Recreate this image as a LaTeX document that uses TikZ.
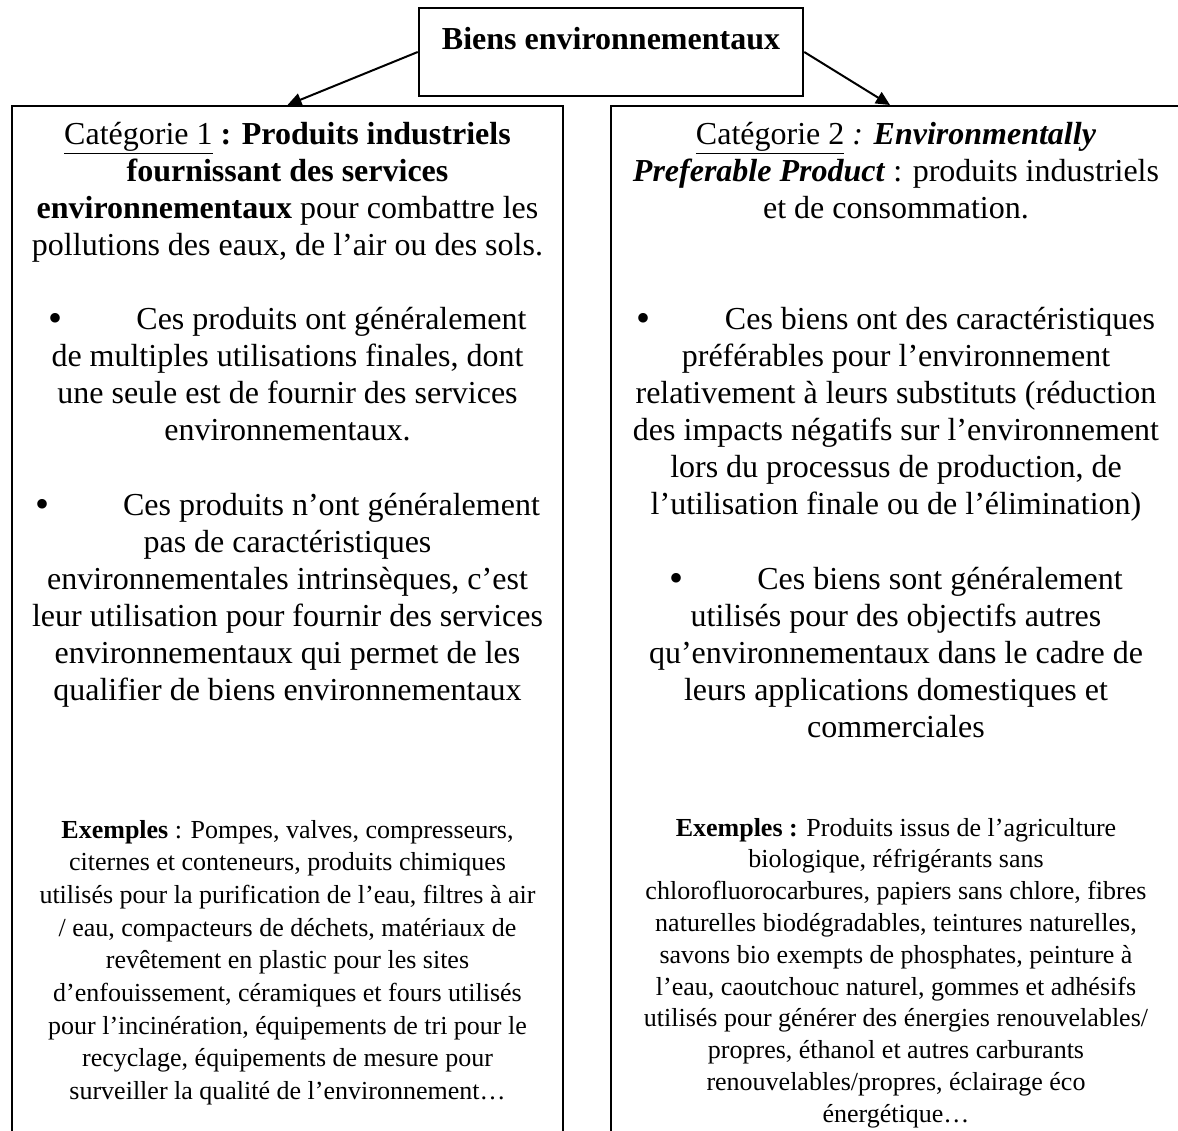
\documentclass[tikz,border=0pt]{standalone}
\usepackage{fontspec}
\setmainfont{Liberation Serif}
\usetikzlibrary{arrows.meta}
\newcommand\mybul{\raisebox{-2pt}{\fontsize{40}{37}\selectfont\textbullet}}
\begin{document}
\begin{tikzpicture}[x=1pt,y=-1pt,
  frame/.style={draw, line width=2.5pt, inner sep=0pt},
  bodytext/.style={font=\fontsize{32}{37}\selectfont, text width=#1, align=flush center, inner sep=0pt, anchor=base},
  smalltext/.style={font=\fontsize{26}{32.7}\selectfont, text width=#1, align=flush center, inner sep=0pt, anchor=base},
  arr/.style={line width=2pt, -{Triangle[length=14pt,width=13pt]}}]
\useasboundingbox (0,0) rectangle (1178,1131);
\fill[white] (0,0) rectangle (1178,1131);
\clip (0,0) rectangle (1178,1131);

% boxes
\node[frame, minimum width=384pt, minimum height=88pt] (top) at (611,52) {};
\node[font=\bfseries\fontsize{32}{37}\selectfont, anchor=base, inner sep=0pt] (title) at (611,50) {Biens environnementaux};
\node[frame, minimum width=551pt, minimum height=1100pt, anchor=north] (left) at (287.5,105) {};
\node[frame, minimum width=570pt, minimum height=1100pt, anchor=north] (right) at (896,105) {};

% connectors
\draw[arr] (top.west) -- (left.north);
\draw[arr] (top.east) -- ([xshift=-6pt]right.north);

% left column
\node[bodytext=545pt] (l1) at (287.5,145) {\underline{Catégorie 1} \textbf{: Produits industriels}\\ \textbf{fournissant des services}\\ \textbf{environnementaux} pour combattre les\\ pollutions des eaux, de l’air ou des sols.};
\node[bodytext=545pt] (l2) at (287.5,330) {\mybul\hspace{74pt}Ces produits ont généralement\\ de multiples utilisations finales, dont\\ une seule est de fournir des services\\ environnementaux.};
\node[bodytext=545pt] (l3) at (287.5,515) {\mybul\hspace{74pt}Ces produits n’ont généralement\\ pas de caractéristiques\\ environnementales intrinsèques, c’est\\ leur utilisation pour fournir des services\\ environnementaux qui permet de les\\ qualifier de biens environnementaux};
\node[smalltext=545pt] (l4) at (287.5,838) {\textbf{Exemples} : Pompes, valves, compresseurs,\\ citernes et conteneurs, produits chimiques\\ utilisés pour la purification de l’eau, filtres à air\\ / eau, compacteurs de déchets, matériaux de\\ revêtement en plastic pour les sites\\ d’enfouissement, céramiques et fours utilisés\\ pour l’incinération, équipements de tri pour le\\ recyclage, équipements de mesure pour\\ surveiller la qualité de l’environnement…};

% right column
\node[bodytext=565pt] (r1) at (896,145) {\underline{Catégorie 2} \textit{: \textbf{Environmentally}}\\ \textbf{\textit{Preferable Product}} : produits industriels\\ et de consommation.};
\node[bodytext=565pt] (r2) at (896,330) {\mybul\hspace{74pt}Ces biens ont des caractéristiques\\ préférables pour l’environnement\\ relativement à leurs substituts (réduction\\ des impacts négatifs sur l’environnement\\ lors du processus de production, de\\ l’utilisation finale ou de l’élimination)};
\node[bodytext=565pt] (r3) at (896,589) {\mybul\hspace{74pt}Ces biens sont généralement\\ utilisés pour des objectifs autres\\ qu’environnementaux dans le cadre de\\ leurs applications domestiques et\\ commerciales};
\node[smalltext=565pt, font=\fontsize{26}{31.8}\selectfont] (r4) at (896,836) {\textbf{Exemples :} Produits issus de l’agriculture\\ biologique, réfrigérants sans\\ chlorofluorocarbures, papiers sans chlore, fibres\\ naturelles biodégradables, teintures naturelles,\\ savons bio exempts de phosphates, peinture à\\ l’eau, caoutchouc naturel, gommes et adhésifs\\ utilisés pour générer des énergies renouvelables/\\ propres, éthanol et autres carburants\\ renouvelables/propres, éclairage éco\\ énergétique…};
\end{tikzpicture}
\end{document}
